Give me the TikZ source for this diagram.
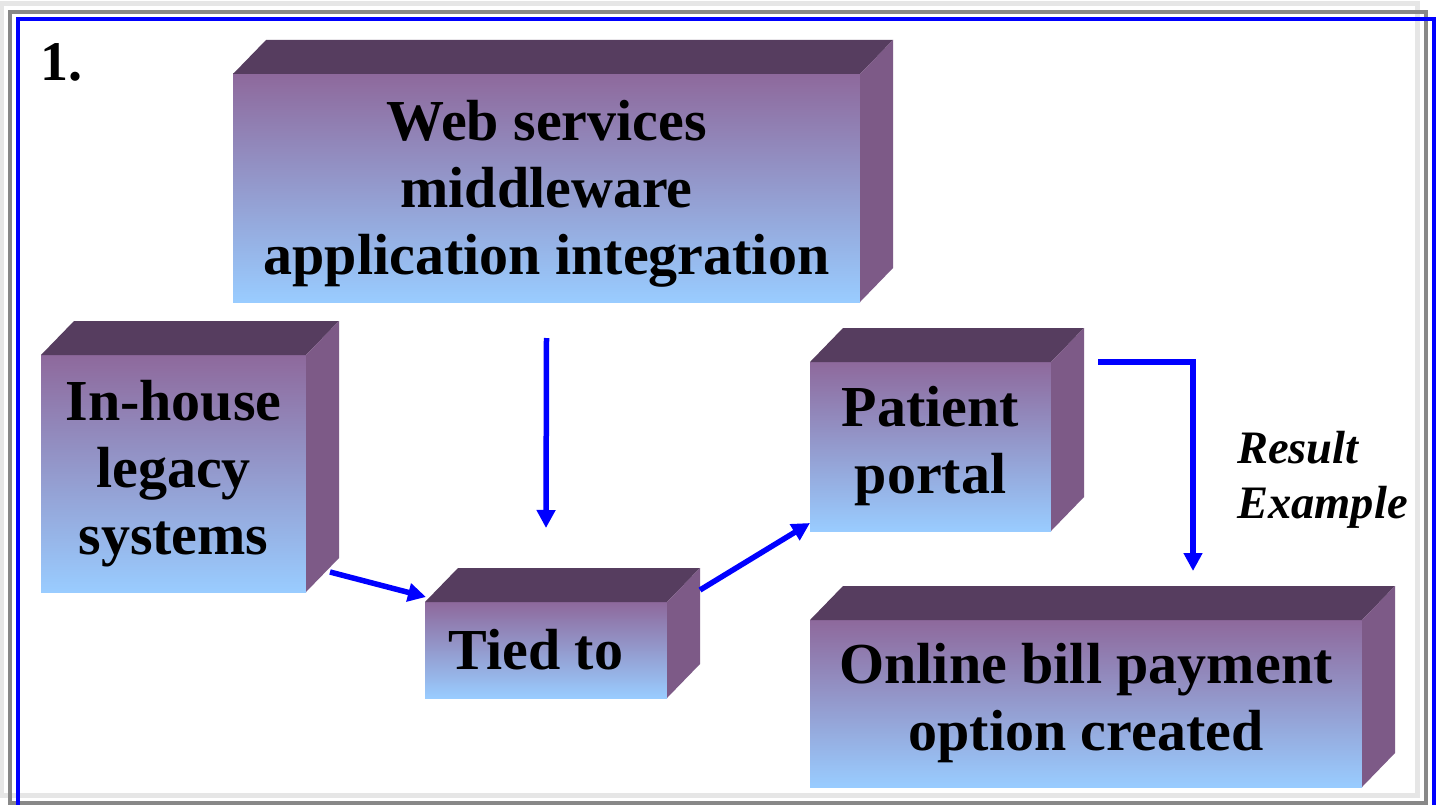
\documentclass[tikz,border=0pt]{standalone}
\usepackage{fontspec}
\setmainfont{Liberation Serif}
\usetikzlibrary{arrows.meta,calc}
\definecolor{topface}{HTML}{563D5F}
\definecolor{sideface}{HTML}{7D5A87}
\definecolor{fronttop}{HTML}{8E699C}
\definecolor{frontbot}{HTML}{99CCFF}
\definecolor{arrowblue}{HTML}{0000FF}
\definecolor{lightframe}{HTML}{E6E6E6}
\definecolor{midframe}{HTML}{888888}
\newcommand{\boxsides}[1]{%
  \fill[topface] (#1.north west) -- (#1.north east) -- ++(33,-34) -- ($(#1.north west)+(33,-34)$) -- cycle;
  \fill[sideface] (#1.north east) -- ++(33,-34) -- ($(#1.south east)+(33,-34)$) -- (#1.south east) -- cycle;}
\tikzset{
  face/.style={anchor=north west, inner sep=0pt, outer sep=0pt, top color=fronttop, bottom color=frontbot,
    align=center, font=\fontsize{58}{67}\selectfont\bfseries},
  flow/.style={draw=arrowblue, line width=5.5pt, -{Triangle[length=18pt,width=18pt]}},
  frame/.style={line width=4.5pt},
}
\begin{document}
\begin{tikzpicture}[x=1pt,y=-1pt]
\useasboundingbox (0,0) rectangle (1439,805);
\fill[white] (0,0) rectangle (1439,805);
% frames
\draw[frame, lightframe] (2,3.5) rectangle (1417.5,795.5);
\draw[frame, midframe] (10,12) rectangle (1426,803.5);
\draw[frame, arrowblue] (18,19) rectangle (1434,815);
% boxes
\node[face, minimum width=627pt, minimum height=228pt] (web) at (233,74)
  {\rule{0pt}{51pt}Web services\\middleware\\application integration};
\boxsides{web}
\node[face, minimum width=265pt, minimum height=237pt] (inh) at (41,355)
  {In-house\\legacy\\systems};
\boxsides{inh}
\node[face, minimum width=242pt, minimum height=96pt] (tied) at (425,602)
  {Tied to\hspace*{20pt}};
\boxsides{tied}
\node[face, minimum width=241pt, minimum height=169pt] (pat) at (810,362)
  {Patient\\portal};
\boxsides{pat}
\node[face, minimum width=552pt, minimum height=167pt] (onl) at (810,620)
  {Online bill payment\\option created};
\boxsides{onl}
% labels
\node[anchor=base west, inner sep=0pt, font=\fontsize{56}{60}\selectfont\bfseries] (num) at (40,81) {1.};
\node[anchor=north west, inner sep=0pt, align=left, font=\fontsize{46.5}{55}\selectfont\bfseries\itshape] (res) at (1237,431)
  {Result\\Example};
% connectors
\draw[flow] ($(web.south)+(0,36)$) -- ($(tied.north)+(0,-74)$);
\draw[flow] ($(inh.south east)+(24,-20)$) -- ($(tied.north west)+(1,-5)$);
\draw[flow] ($(tied.north east)+(33,-12)$) -- ($(pat.south west)+(0,-8)$);
\draw[flow] ($(pat.north east)+(47,0)$) -| ($(onl.north)+(107,-49)$);
\end{tikzpicture}
\end{document}
